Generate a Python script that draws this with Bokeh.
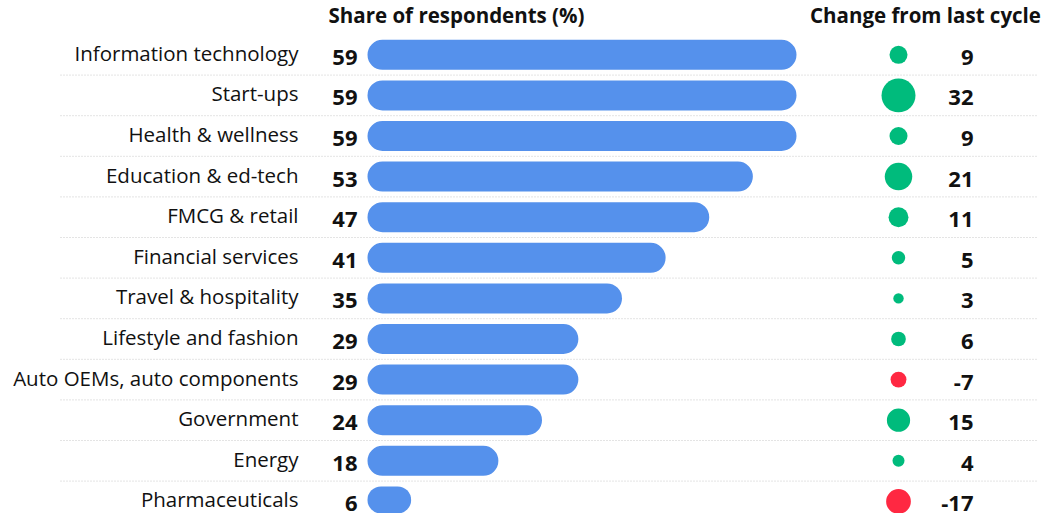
from bokeh.plotting import figure
from bokeh.models import Range1d, ColumnDataSource
from bokeh.core.properties import value
from bokeh.embed import file_html
from bokeh.resources import INLINE
import math

categories = ["Information technology", "Start-ups", "Health & wellness", "Education & ed-tech",
              "FMCG & retail", "Financial services", "Travel & hospitality", "Lifestyle and fashion",
              "Auto OEMs, auto components", "Government", "Energy", "Pharmaceuticals"]
share = [59, 59, 59, 53, 47, 41, 35, 29, 29, 24, 18, 6]
change = [9, 32, 9, 21, 11, 5, 3, 6, -7, 15, 4, -17]

FONT = "Open Sans"
BLUE = "#5591ec"
GREEN = "#00bb7c"
RED = "#ff2842"
TXT = "#111111"

n = len(categories)
rows = list(range(n))
W, H = 1055, 513
px_per_unit = 429 / 59.0
x0_px = 367
row_px = 40.6
row0_px = 54.3

p = figure(width=W, height=H, output_backend="svg", toolbar_location=None,
           x_range=Range1d(-x0_px / px_per_unit, (W - x0_px) / px_per_unit),
           y_range=Range1d((H - row0_px) / row_px, -row0_px / row_px),
           min_border=0, outline_line_color=None)
p.axis.visible = False
p.grid.visible = False
p.background_fill_color = "white"
p.border_fill_color = "white"

src = ColumnDataSource(dict(
    y=rows, cat=categories, share=share, change=change,
    share_lbl=[str(v) for v in share], change_lbl=[str(v) for v in change],
    zero=[0] * n, cx=[(898 - x0_px) / px_per_unit] * n,
    size=[6 * math.sqrt(abs(v)) for v in change],
    color=[GREEN if v >= 0 else RED for v in change],
))

# separators
sep_y = [i + 0.5 for i in rows]
p.segment(x0=[(60 - x0_px) / px_per_unit] * n, x1=[(1038 - x0_px) / px_per_unit] * n,
          y0=sep_y, y1=sep_y, line_color="#c8c8c8", line_width=1, line_dash="1 2")

p.hbar(y="y", left="zero", right="share", height=30 / row_px, source=src,
       fill_color=BLUE, line_color=None, border_radius=15)

p.text(x="zero", y="y", text="cat", source=src, x_offset=-69, y_offset=-2,
       text_align="right", text_baseline="middle", text_font=value(FONT),
       text_font_size="20.5px", text_color=TXT)
p.text(x="zero", y="y", text="share_lbl", source=src, x_offset=-10, y_offset=2.5,
       text_align="right", text_baseline="middle", text_font=value(FONT),
       text_font_size="22px", text_font_style="bold", text_color=TXT)

p.scatter(x="cx", y="y", size="size", source=src, fill_color="color", line_color=None)
p.text(x="cx", y="y", text="change_lbl", source=src, x_offset=75, y_offset=2.5,
       text_align="right", text_baseline="middle", text_font=value(FONT),
       text_font_size="22px", text_font_style="bold", text_color=TXT)

hdr_y = -row0_px / row_px + 14 / row_px
p.text(x=[(456 - x0_px) / px_per_unit], y=[hdr_y], text=["Share of respondents (%)"],
       text_align="center", text_baseline="middle", text_font=value(FONT),
       text_font_size="20.5px", text_font_style="bold", text_color=TXT)
p.text(x=[(925 - x0_px) / px_per_unit], y=[hdr_y], text=["Change from last cycle"],
       text_align="center", text_baseline="middle", text_font=value(FONT),
       text_font_size="20.5px", text_font_style="bold", text_color=TXT)

open("out.html", "w").write(file_html(p, INLINE))
